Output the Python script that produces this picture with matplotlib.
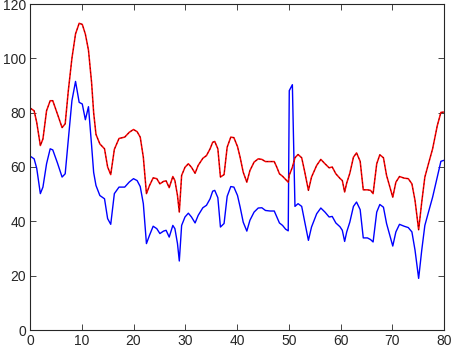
import matplotlib
matplotlib.use("Agg")
import matplotlib.pyplot as plt

x = [0.1, 0.8, 1.3, 2.0, 2.5, 3.2, 3.9, 4.4, 5.3, 6.2, 6.8, 7.4, 8.1, 8.8, 9.5, 10.1,
     10.7, 11.3, 11.9, 12.3, 12.75, 13.5, 14.4, 15.0, 15.6, 16.3, 17.2, 18.3, 19.2, 20.0,
     20.7, 21.3, 21.9, 22.5, 23.1, 23.8, 24.5, 25.1, 25.8, 26.3, 26.9, 27.6, 28.0, 28.5,
     28.85, 29.3, 29.95, 30.6, 31.2, 31.9, 32.5, 33.4, 34.1, 34.8, 35.3, 35.7, 36.3, 36.8,
     37.5, 38.1, 38.8, 39.4, 40.1, 40.6, 41.2, 41.9, 42.5, 43.3, 44.1, 44.8, 45.5, 46.4,
     47.2, 47.7, 48.2, 48.8, 49.4, 49.9, 50.1, 50.7, 51.2, 51.8, 52.5, 53.1, 53.8, 54.4,
     55.4, 56.2, 57.0, 57.8, 58.4, 59.1, 59.9, 60.35, 60.8, 61.2, 61.8, 62.5, 63.1, 63.8,
     64.4, 65.2, 65.8, 66.3, 67.0, 67.6, 68.3, 68.9, 70.1, 70.7, 71.4, 72.3, 73.1, 73.8,
     74.4, 75.1, 75.7, 76.3, 77.0, 77.8, 78.7, 79.4, 79.9]

blue = [63.9, 63.0, 59.5, 50.2, 52.6, 61.2, 66.7, 66.3, 61.5, 56.3, 57.5, 70.0, 84.4, 91.5,
        83.8, 83.2, 77.4, 82.2, 68.0, 58.0, 53.2, 49.5, 48.3, 41.0, 38.9, 50.2, 52.6, 52.6,
        54.5, 55.7, 55.0, 52.8, 46.5, 31.8, 34.9, 38.2, 37.3, 35.5, 36.4, 36.7, 34.2, 38.5,
        37.3, 31.8, 25.4, 38.5, 41.6, 43.0, 41.6, 39.4, 42.2, 45.0, 45.9, 48.3, 51.1, 51.4,
        48.7, 37.9, 39.2, 49.2, 52.8, 52.6, 49.5, 45.3, 39.7, 36.4, 40.4, 43.4, 44.9, 45.0,
        44.0, 43.8, 43.8, 41.6, 39.4, 38.5, 37.1, 36.5, 88.1, 90.3, 45.5, 46.5, 45.5, 39.7,
        33.0, 37.9, 42.8, 44.9, 43.4, 41.6, 41.8, 39.4, 38.0, 36.7, 32.6, 36.1, 39.7, 45.5,
        47.1, 44.3, 33.9, 33.9, 33.3, 32.4, 43.4, 46.2, 45.2, 39.2, 30.9, 36.1, 38.9, 38.2,
        37.7, 36.1, 29.4, 19.0, 29.4, 38.5, 43.4, 48.9, 56.3, 62.1, 62.4]

red = [81.6, 80.7, 76.4, 67.9, 70.3, 80.7, 84.4, 84.4, 79.5, 74.5, 75.9, 88.0, 100.0, 109.0,
       112.9, 112.5, 108.9, 103.0, 91.1, 80.0, 72.0, 68.5, 66.7, 60.0, 57.2, 66.5, 70.5, 71.0,
       72.8, 73.8, 73.0, 71.0, 63.6, 50.2, 53.2, 56.0, 55.7, 53.8, 54.7, 54.9, 52.4, 56.5,
       55.0, 49.5, 43.4, 56.9, 59.9, 61.2, 59.9, 57.7, 60.6, 63.2, 64.2, 66.7, 69.1, 69.4,
       66.7, 56.3, 57.2, 67.3, 71.0, 70.8, 67.5, 63.6, 58.1, 54.4, 58.7, 61.8, 63.0, 62.8,
       62.0, 62.0, 62.0, 59.9, 57.5, 56.6, 55.4, 54.4, 57.0, 59.9, 63.4, 64.6, 63.4, 58.1,
       51.4, 56.3, 60.6, 62.8, 61.2, 59.7, 60.0, 57.5, 55.8, 55.0, 50.8, 54.1, 57.7, 63.6,
       65.2, 62.1, 51.6, 51.6, 51.4, 50.2, 61.2, 64.5, 63.4, 56.9, 48.9, 54.4, 56.5, 55.9,
       55.7, 53.8, 47.7, 36.9, 47.1, 56.3, 61.2, 66.7, 75.2, 80.1, 80.2]

xticks = [0, 10, 20, 30, 40, 50, 60, 70, 80]
yticks = [0, 20, 40, 60, 80, 100, 120]

plt.rcParams['font.family'] = ['Liberation Sans', 'DejaVu Sans']

fig = plt.figure(figsize=(4.55, 3.53), dpi=100)
ax = fig.add_axes([30/455, 23/353, 414/455, 326/353])

ax.plot(x, blue, color=(0, 0, 1), lw=1.0)
ax.plot(x, red, color=(1, 0, 0), lw=1.1)
ax.plot(x, red, color='black', lw=0.6, ls=(0, (2, 3)), alpha=0.55)

ax.set_xlim(0, 80)
ax.set_ylim(0, 120)
ax.set_xticks(xticks)
ax.set_yticks(yticks)
ax.tick_params(direction='in', length=4, width=0.6, colors='#262626',
               labelsize=10, top=True, right=True, pad=3)
for s in ax.spines.values():
    s.set_color('#262626')
    s.set_linewidth(0.8)

fig.savefig('out.png', dpi=100)
